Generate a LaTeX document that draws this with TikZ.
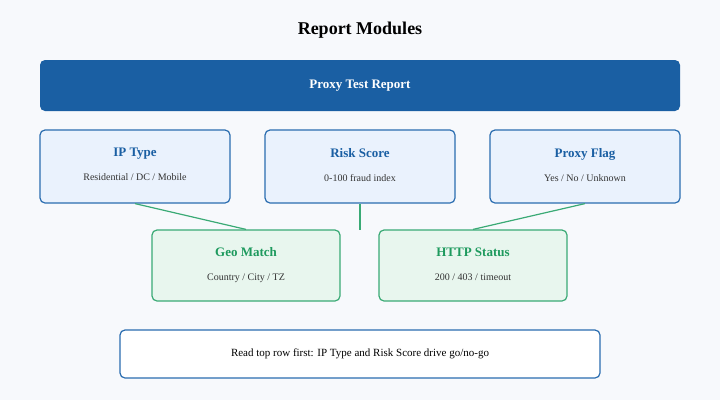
\documentclass[tikz,border=0pt]{standalone}
\usepackage{fontspec}
\setmainfont{Liberation Serif}
\definecolor{bgc}{HTML}{F7F9FC}
\definecolor{bardark}{HTML}{1A5FA3}
\definecolor{bluefill}{HTML}{EAF2FD}
\definecolor{blueline}{HTML}{2A6DB0}
\definecolor{greenfill}{HTML}{E8F6EE}
\definecolor{greenline}{HTML}{3AAA75}
\definecolor{greentext}{HTML}{1E9A5E}
\definecolor{subtext}{HTML}{333333}
\newcommand{\modbox}[2]{\begin{tabular}{c}\fontsize{13}{15}\selectfont\bfseries #1\\[12pt]\fontsize{10}{12}\selectfont\color{subtext}#2\end{tabular}}

\begin{document}
\begin{tikzpicture}[x=1pt,y=-1pt,
  bluemod/.style={draw=blueline,fill=bluefill,rounded corners=5pt,line width=1.2pt,
    minimum width=190pt,minimum height=73pt,text=bardark},
  greenmod/.style={draw=greenline,fill=greenfill,rounded corners=5pt,line width=1.2pt,
    minimum width=188pt,minimum height=71pt,text=greentext},
  link/.style={draw=greenline,line width=1.2pt}]
  \fill[bgc] (0,0) rectangle (720,400);
  \useasboundingbox (0,0) rectangle (720,400);
  \node (title) at (360,30) {\fontsize{18}{20}\selectfont\bfseries Report Modules};
  \node[fill=bardark,rounded corners=5pt,minimum width=640pt,minimum height=51pt,text=white]
    (report) at (360,85.5) {\fontsize{13}{15}\selectfont\bfseries Proxy Test Report};
  % top row
  \node[bluemod] (iptype) at (135,166.5) {\modbox{IP Type}{Residential / DC / Mobile}};
  \node[bluemod] (risk) at (360,166.5) {\modbox{Risk Score}{0-100 fraud index}};
  \node[bluemod] (flag) at (585,166.5) {\modbox{Proxy Flag}{Yes / No / Unknown}};
  % second row
  \node[greenmod] (geo) at (246,265.5) {\modbox{Geo Match}{Country / City / TZ}};
  \node[greenmod] (http) at (473,265.5) {\modbox{HTTP Status}{200 / 403 / timeout}};
  \coordinate (riskend) at (360,230);
  \draw[link] (iptype.south) -- (geo.north);
  \draw[link] (risk.south) -- (riskend);
  \draw[link] (flag.south) -- (http.north);
  \node[draw=blueline,fill=white,rounded corners=5pt,line width=1.2pt,
    minimum width=480pt,minimum height=48pt] (note) at (360,354)
    {\fontsize{11}{13}\selectfont Read top row first: IP Type and Risk Score drive go/no-go};
\end{tikzpicture}
\end{document}
